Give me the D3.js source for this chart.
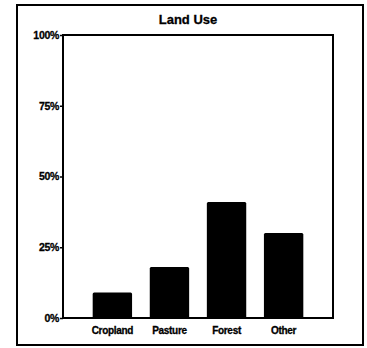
<!DOCTYPE html>
<html>
<head>
<meta charset="utf-8">
<script src="https://cdn.jsdelivr.net/npm/d3@7"></script>
<style>
  body { margin: 0; background: #fff; }
  text { font-family: "Liberation Sans", Arial, sans-serif; font-weight: bold; fill: #000; stroke: #000; stroke-width: 0.3px; }
</style>
</head>
<body>
<div id="chart"></div>
<script>
// data for the land use chart
var categories = ["Cropland", "Pasture", "Forest", "Other"];
var shares = [9, 18, 41, 30];
var yTicks = [0, 25, 50, 75, 100];
var chartTitle = "Land Use";

var fullWidth = 367, fullHeight = 348;
var margin = { top: 35, right: 34, bottom: 30, left: 63 },
  width = 333 - margin.left,
  height = 318 - margin.top;

var root = d3.select("#chart")
  .append("svg")
  .attr("width", fullWidth)
  .attr("height", fullHeight);

// outer frame
root.append("rect")
  .attr("x", 17)
  .attr("y", 5)
  .attr("width", 346)
  .attr("height", 340)
  .attr("fill", "none")
  .attr("stroke", "#000")
  .attr("stroke-width", 2);

// title
root.append("text")
  .attr("x", 188)
  .attr("y", 24)
  .attr("text-anchor", "middle")
  .style("font-size", "13px")
  .text(chartTitle);

var svg = root.append("g")
  .attr("transform", "translate(" + margin.left + "," + margin.top + ")");

var x = d3.scaleBand()
  .domain(categories)
  .range([0, width])
  .paddingInner(0.31)
  .paddingOuter(0.52);

var y = d3.scaleLinear()
  .domain([0, 100])
  .range([height, 0]);

// bars
svg.selectAll(".bar")
  .data(shares)
  .enter()
  .append("rect")
  .attr("class", "bar")
  .attr("x", function (d, i) { return x(categories[i]); })
  .attr("width", x.bandwidth())
  .attr("y", function (d) { return y(d); })
  .attr("height", function (d) { return height - y(d); })
  .attr("rx", 1.5)
  .attr("fill", "#000");

// plot frame
svg.append("rect")
  .attr("width", width)
  .attr("height", height)
  .attr("fill", "none")
  .attr("stroke", "#000")
  .attr("stroke-width", 2);

// y axis
var yAxis = svg.append("g")
  .call(d3.axisLeft(y).tickValues(yTicks).tickSize(3).tickPadding(1)
    .tickFormat(function (d) { return d + "%"; }));
yAxis.select(".domain").remove();
yAxis.selectAll("line").attr("stroke-width", 1.5);
yAxis.selectAll("text")
  .style("font-size", "10.5px")
  .style("font-family", "'Liberation Sans', Arial, sans-serif")
  .style("font-weight", "bold")
  .style("letter-spacing", "-0.3px");

// x axis
var xAxis = svg.append("g")
  .attr("transform", "translate(0," + height + ")")
  .call(d3.axisBottom(x).tickSize(0).tickPadding(9));
xAxis.select(".domain").remove();
xAxis.selectAll("text")
  .style("font-size", "10px")
  .style("font-family", "'Liberation Sans', Arial, sans-serif")
  .style("font-weight", "bold")
  .style("letter-spacing", "-0.3px");
</script>
</body>
</html>
